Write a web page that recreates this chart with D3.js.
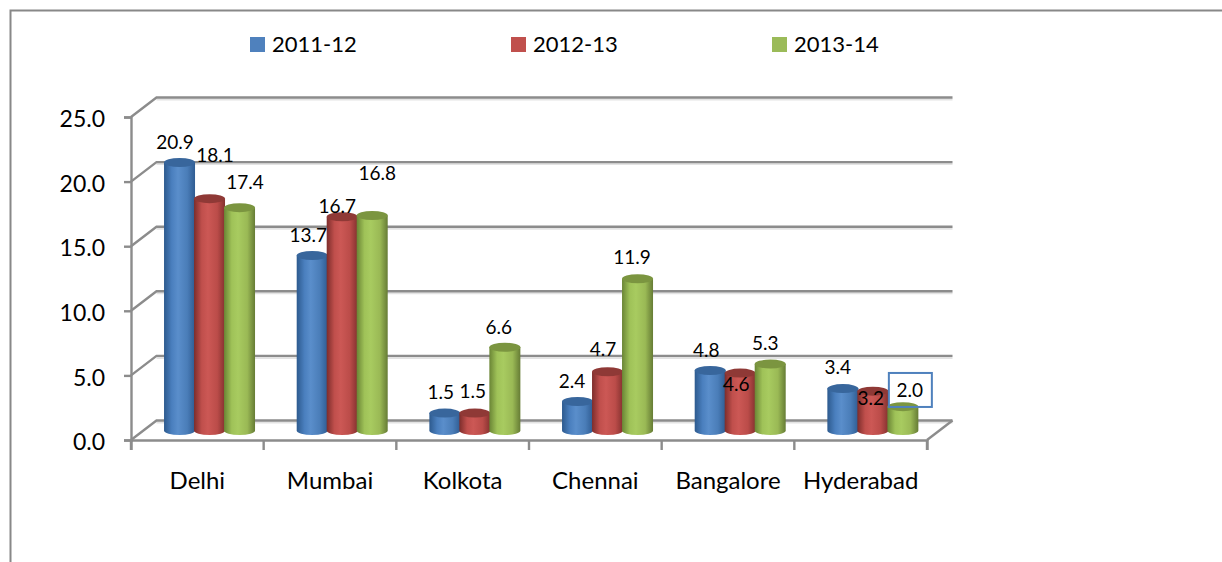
<!DOCTYPE html>
<html><head><meta charset="utf-8">
<script src="https://cdn.jsdelivr.net/npm/d3@7/dist/d3.min.js"></script>
<style>html,body{margin:0;padding:0;background:#fff}svg{display:block}text{font-family:Lato,"Open Sans",sans-serif;fill:#000}</style>
</head><body><svg id="c" width="1222" height="562"></svg>
<script>
const cities = ["Delhi","Mumbai","Kolkota","Chennai","Bangalore","Hyderabad"];
const seriesNames = ["2011-12","2012-13","2013-14"];
const values2011 = [20.9,13.7,1.5,2.4,4.8,3.4];
const values2012 = [18.1,16.7,1.5,4.7,4.6,3.2];
const values2013 = [17.4,16.8,6.6,11.9,5.3,2.0];
const yTicks = [0,5,10,15,20,25];
const seriesValues = [values2011,values2012,values2013];

// layout and style, separate from the data
const depthX = 25.5, depthY = 19.5, W = 1222, H = 562;
const x = d3.scaleBand().domain(cities).range([131,927]);
const y = d3.scaleLinear().domain([0,25]).range([440,117]);
const barTopShift = -7.5, barBottomShift = -9.5, barW = 31, barStep = 30, ry = 4.5;
const palette = [
  {stops:["#2d5a8e","#4a7fbe","#5a8ecb","#4a7db8","#2f5c92"],top:"#38669c",legend:"#4f81bd"},
  {stops:["#7d2d2b","#c04f4c","#cc5855","#bb4c49","#84312f"],top:"#8f3936",legend:"#c0504d"},
  {stops:["#6a8535","#9fc258","#a8cb60","#9ab955","#667c35"],top:"#7b9540",legend:"#9bbb59"}
];
// label offsets from the top of each bar, tuned by hand against the reference
const labelShift = [
 [[-4.5,-20.5],[5.5,-43.6],[5.5,-25]],
 [[-4,-20.5],[-5,-10],[5,-42]],
 [[-4,-21],[-2,-22],[-6,-20]],
 [[-5.5,-20.5],[-4.5,-22],[-5.5,-21]],
 [[-4,-20.5],[-4,11],[-5,-21]],
 [[-5,-21.6],[-2,7],[7,-16.7]]
];
const legendX = [250,511,772];

const svg = d3.select("#c");
const defs = svg.append("defs");
palette.forEach((p,i)=>{
  const g = defs.append("linearGradient").attr("id","g"+i);
  const o=[0,.25,.45,.75,1];
  p.stops.forEach((c,k)=>g.append("stop").attr("offset",o[k]).attr("stop-color",c));
});
const AX="#8c8c8c", SH="#e3e3e3";

// outer frame
svg.append("path").attr("d",`M${W},10.5H10.5V${H}`).attr("fill","none").attr("stroke","#888").attr("stroke-width",2);

// back-wall grid lines with faint shadow
const grid = svg.append("g").attr("fill","none");
yTicks.forEach(t=>{
  const yy=y(t);
  grid.append("path").attr("d",`M${x.range()[0]+depthX},${yy-depthY+2}H${x.range()[1]+depthX}`).attr("stroke",SH).attr("stroke-width",2);
  grid.append("path").attr("d",`M${x.range()[0]},${yy}L${x.range()[0]+depthX},${yy-depthY}H${x.range()[1]+depthX}`).attr("stroke",AX).attr("stroke-width",2.4);
});
// floor right edge
grid.append("path").attr("d",`M${x.range()[1]},${y(0)}L${x.range()[1]+depthX},${y(0)-depthY}`).attr("stroke",AX).attr("stroke-width",2.4);

// axes
const axL = svg.append("g").attr("transform",`translate(${x.range()[0]},0)`)
  .call(d3.axisLeft(y).tickValues(yTicks).tickSize(7).tickPadding(19).tickFormat(d3.format(".1f")));
const axB = svg.append("g").attr("transform",`translate(0,${y(0)})`)
  .call(d3.axisBottom(x).tickSize(10).tickPadding(22));
axB.selectAll(".tick line").remove();
axB.selectAll(".bt").data(d3.range(cities.length+1)).enter().append("line")
  .attr("x1",i=>x.range()[0]+i*x.bandwidth()).attr("x2",i=>x.range()[0]+i*x.bandwidth())
  .attr("y1",0).attr("y2",10).attr("stroke",AX).attr("stroke-width",2.4);
[axL,axB].forEach(a=>{
  a.selectAll(".domain").attr("stroke",AX).attr("stroke-width",2.4);
  a.selectAll("line").attr("stroke",AX).attr("stroke-width",2.4);
  a.selectAll("text").style("font-size","24px").attr("font-family",null);
});
axL.selectAll("text").style("font-size","23px").attr("dy","0.42em");

// cylinders
const bars = svg.append("g");
seriesValues.forEach((vals,s)=>{
  const g=bars.append("g");
  vals.forEach((v,i)=>{
    const cx=x(cities[i])+x.bandwidth()/2+12.2+(s-1)*barStep;
    const rx=barW/2, top=y(v)+barTopShift, bot=y(0)+barBottomShift;
    g.append("path").attr("d",`M${cx-rx},${top}V${bot}A${rx},${ry} 0 0 0 ${cx+rx},${bot}V${top}Z`).attr("fill",`url(#g${s})`);
    g.append("ellipse").attr("cx",cx).attr("cy",top).attr("rx",rx).attr("ry",ry).attr("fill",palette[s].top);
  });
});

// value labels
const labels = svg.append("g").attr("text-anchor","middle").style("font-size","19px");
seriesValues.forEach((vals,s)=>vals.forEach((v,i)=>{
  const cx=x(cities[i])+x.bandwidth()/2+12.2+(s-1)*barStep, top=y(v)+barTopShift;
  const [dx,dy]=labelShift[i][s];
  const lx=cx+dx, ly=top+dy;
  if(i===5&&s===2){
    labels.append("rect").attr("x",lx-21).attr("y",ly-17).attr("width",43).attr("height",34)
      .attr("fill","none").attr("stroke","#4f81bd").attr("stroke-width",2);
  }
  labels.append("text").attr("x",lx).attr("y",ly).attr("dy","0.35em").text(d3.format(".1f")(v));
}));

// legend
const leg = svg.append("g");
seriesNames.forEach((n,i)=>{
  leg.append("rect").attr("x",legendX[i]).attr("y",37).attr("width",15).attr("height",15).attr("fill",palette[i].legend);
  leg.append("text").attr("x",legendX[i]+22).attr("y",44.5).attr("dy","0.35em").style("font-size","22px").text(n);
});
</script></body></html>
